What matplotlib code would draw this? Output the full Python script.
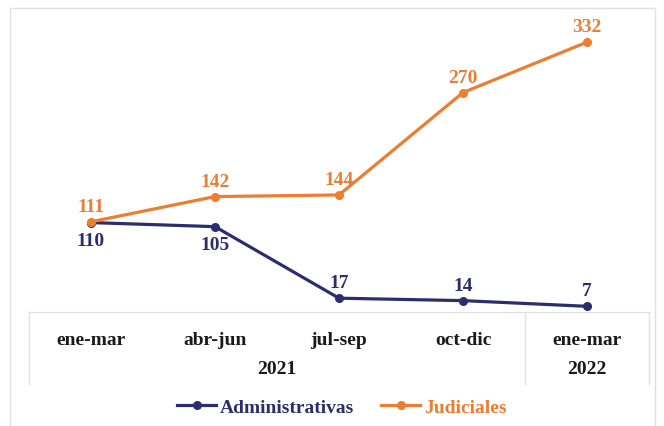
import matplotlib.pyplot as plt
from matplotlib.patches import Rectangle
import matplotlib.transforms as mtransforms

# quarterly counts
quarters = ["ene-mar", "abr-jun", "jul-sep", "oct-dic", "ene-mar"]
years = ["2021", "2022"]
year_centers = [1.5, 4]
year_breaks = [-0.5, 3.5, 4.5]
administrativas = [110, 105, 17, 14, 7]
judiciales = [111, 142, 144, 270, 332]

navy = "#2B2D6E"
orange = "#ED7D31"
plt.rcParams["font.family"] = ["Liberation Serif", "DejaVu Serif"]
plt.rcParams["font.weight"] = "bold"

fig = plt.figure(figsize=(6.64, 4.27), dpi=100)
ax = fig.add_axes([29 / 664, 1 - 313 / 427, 620 / 664, 304 / 427])

x = list(range(len(quarters)))
ax.plot(x, administrativas, color=navy, lw=2.3, marker="o", ms=5.5,
        label="Administrativas", zorder=3)
ax.plot(x, judiciales, color=orange, lw=2.3, marker="o", ms=5.5,
        label="Judiciales", zorder=3)

# labels: orange above, navy below for the first two then above
for xi, v in zip(x, judiciales):
    ax.annotate(str(v), (xi, v), xytext=(0, 5), textcoords="offset points",
                ha="center", va="bottom", color=orange, fontsize=14, fontweight="bold")
for xi, v in zip(x, administrativas):
    dy, va = ((-7, "top") if xi < 2 else (5, "bottom"))
    ax.annotate(str(v), (xi, v), xytext=(0, dy), textcoords="offset points",
                ha="center", va=va, color=navy, fontsize=14, fontweight="bold")

ax.set_xlim(-0.5, 4.5)
ax.set_ylim(0, 374)
ax.set_yticks([])
ax.set_xticks(x)
ax.set_xticklabels(quarters, fontsize=14, fontweight="bold", color="#1a1a1a")
ax.tick_params(axis="x", length=0, pad=14)
for side in ["top", "left", "right"]:
    ax.spines[side].set_visible(False)
ax.spines["bottom"].set_color("#dedede")

# year row and group separators below the axis
trans = mtransforms.blended_transform_factory(ax.transData, ax.transAxes)
for label, xc in zip(years, year_centers):
    ax.text(xc, -0.187, label, transform=trans, ha="center", va="center",
            fontsize=14, fontweight="bold", color="#1a1a1a")
for xb in year_breaks:
    ax.plot([xb, xb], [0, -0.236], transform=trans, color="#e0e0e0",
            lw=1, clip_on=False)

# chart border
fig.patches.append(Rectangle((10 / 664, -0.1), 645 / 664, 1.1 - 9 / 427,
                             transform=fig.transFigure, fill=False,
                             edgecolor="#e0e0e0", lw=1))

leg = fig.legend(loc="center", bbox_to_anchor=(342 / 664, 1 - 408 / 427),
                 ncol=2, frameon=False, fontsize=14, handlelength=2.0,
                 columnspacing=1.4, handletextpad=0.2)
for t, c in zip(leg.get_texts(), [navy, orange]):
    t.set_color(c)

fig.savefig("out.png", dpi=100)
